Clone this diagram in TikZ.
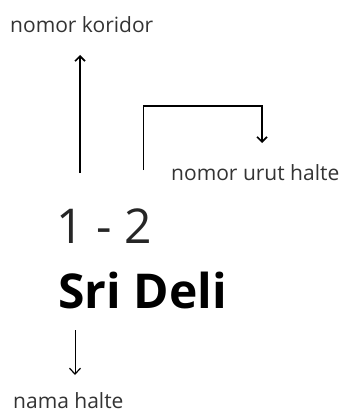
\documentclass[tikz,border=0pt]{standalone}
\usepackage{fontspec}
\setmainfont{Open Sans}
\usetikzlibrary{arrows.meta}
\begin{document}
\begin{tikzpicture}[x=1pt,y=1pt,
  lbl/.style={inner sep=0pt,anchor=base west,text=black!80,font=\fontsize{21}{24}\selectfont},
  conn/.style={line width=1.8pt,-{Straight Barb[length=5pt,width=10pt,line width=1.6pt]}},
  thin/.style={line width=1pt,-{Straight Barb[length=6pt,width=11pt,line width=1.2pt]}}]
\useasboundingbox (0,0) rectangle (346,-412);
\node[lbl] (kor) at (10,-33) {nomor koridor};
\node[lbl] (urut) at (171,-180) {nomor urut halte};
\node[inner sep=0pt,anchor=base west,text=black!85,font=\fontsize{48}{54}\selectfont] (num) at (56,-243) {1 - 2};
\node[inner sep=0pt,anchor=base west,font=\fontsize{48}{54}\selectfont\bfseries] (name) at (58,-308) {Sri Deli};
\node[lbl] (nama) at (13,-408) {nama halte};
\coordinate (upS) at (80,-173);
\coordinate (upE) at (80,-55);
\coordinate (bS) at (143.5,-170);
\coordinate (bE) at (262,-143);
\coordinate (dS) at (75,-330);
\coordinate (dE) at (75,-375);
\draw[conn] (upS) -- (upE);
\draw[conn] (bS) |- (262,-106) -- (bE);
\draw[thin] (dS) -- (dE);
\end{tikzpicture}
\end{document}
